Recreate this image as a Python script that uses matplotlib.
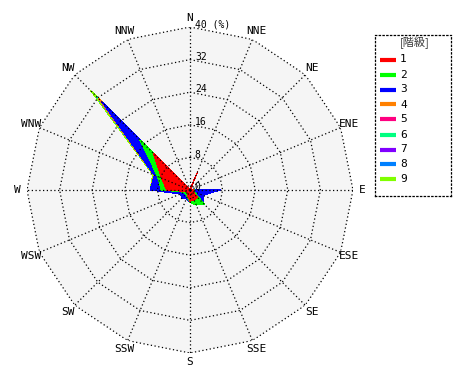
import numpy as np
import matplotlib.pyplot as plt

# 16方位
dirs = ['N', 'NNE', 'NE', 'ENE', 'E', 'ESE', 'SE', 'SSE',
        'S', 'SSW', 'SW', 'WSW', 'W', 'WNW', 'NW', 'NNW']

# 階級別の出現率 (%) 方位順
kai1 = [0.3, 4.8, 0.3, 0.3, 0.8, 0.8, 2.5, 2.8, 2.7, 1.5, 1.0, 1.0, 5.7, 7.6, 12.8, 0.3]
kai2 = [0.0, 0.0, 0.0, 0.0, 0.2, 0.4, 2.4, 1.2, 0.3, 0.3, 0.5, 0.5, 1.4, 1.0, 4.6, 0.0]
kai3 = [0.0, 0.0, 0.0, 0.1, 6.4, 2.3, 0.0, 0.0, 0.0, 0.5, 1.3, 1.1, 2.7, 0.9, 13.2, 0.0]
kai4 = [0.0, 0.0, 0.0, 0.0, 0.0, 0.0, 0.0, 0.0, 0.0, 0.0, 0.0, 0.0, 0.0, 0.1, 1.2, 0.0]
kai5 = [0.0, 0.0, 0.0, 0.0, 0.0, 0.0, 0.0, 0.0, 0.0, 0.0, 0.0, 0.0, 0.0, 0.0, 0.1, 0.0]
kai6 = [0.0, 0.0, 0.0, 0.0, 0.0, 0.0, 0.0, 0.0, 0.0, 0.0, 0.0, 0.0, 0.0, 0.0, 0.1, 0.0]
kai7 = [0.0, 0.0, 0.0, 0.0, 0.0, 0.0, 0.0, 0.0, 0.0, 0.0, 0.0, 0.0, 0.0, 0.0, 0.1, 0.0]
kai8 = [0.0, 0.0, 0.0, 0.0, 0.0, 0.0, 0.0, 0.0, 0.0, 0.0, 0.0, 0.0, 0.0, 0.0, 0.3, 0.0]
kai9 = [0.0, 0.0, 0.0, 0.0, 0.0, 0.0, 0.0, 0.0, 0.0, 0.0, 0.0, 0.0, 0.0, 0.3, 2.0, 0.0]

kaikyu = ['1', '2', '3', '4', '5', '6', '7', '8', '9']
colors = ['#ff0000', '#00ff00', '#0000ff', '#ff8000', '#ff0080',
          '#00ff80', '#8000ff', '#0080ff', '#80ff00']
rings = [8, 16, 24, 32, 40]

dot = (0, (1, 2))
mono = 'DejaVu Sans Mono'

fig = plt.figure(figsize=(4.7, 3.8), dpi=100)
ax = fig.add_axes([27 / 470, 27 / 380, 326 / 470, 326 / 380], projection='polar')
ax.set_theta_zero_location('N')
ax.set_theta_direction(-1)
ax.set_ylim(0, 40)
ax.axis('off')

theta = np.deg2rad(np.arange(16) * 22.5)
th = np.append(theta, theta[0])

def closed(v):
    v = list(v)
    return v + v[:1]

# 背景
ax.fill(th, closed([40] * 16), color='#f5f5f5', lw=0, zorder=0)

# 積み上げ (外側の階級から描く)
cum = np.cumsum(np.array([kai1, kai2, kai3, kai4, kai5, kai6, kai7, kai8, kai9]), axis=0)
for k in range(8, -1, -1):
    ax.fill(th, closed(cum[k]), color=colors[k], lw=0, zorder=2, antialiased=False)

# 目盛り線
for r in rings:
    ax.plot(th, closed([r] * 16), color='black', lw=0.9, ls=dot, zorder=3)
for t in theta:
    ax.plot([t, t], [0, 40], color='black', lw=0.9, ls=dot, zorder=3)

for t, d in zip(theta, dirs):
    ax.text(t, 42.3, d, ha='center', va='center', fontsize=8, family=mono)

for r in [0] + rings:
    lab = '40 (%)' if r == 40 else str(r)
    ax.annotate(lab, xy=(0, r), xytext=(3.5, 2), textcoords='offset points',
                ha='left', va='center', fontsize=7, family=mono)

# 凡例
lg = fig.add_axes([375 / 470, (380 - 196) / 380, 76 / 470, 161 / 380])
lg.set_xlim(0, 76)
lg.set_ylim(161, 0)
lg.set_xticks([])
lg.set_yticks([])
for s in lg.spines.values():
    s.set_linestyle(dot)
    s.set_linewidth(0.9)
lg.text(40, 8, '[階級]', ha='center', va='center', fontsize=8, color='#333333',
        family=['Noto Sans CJK JP', 'DejaVu Sans'])
for i, (c, lab) in enumerate(zip(colors, kaikyu)):
    y = 24.5 + 15 * i
    lg.plot([5, 21], [y, y], color=c, lw=3, solid_capstyle='butt')
    lg.text(25, y, lab, ha='left', va='center', fontsize=8, family=mono)

fig.savefig('out.png', dpi=100)
